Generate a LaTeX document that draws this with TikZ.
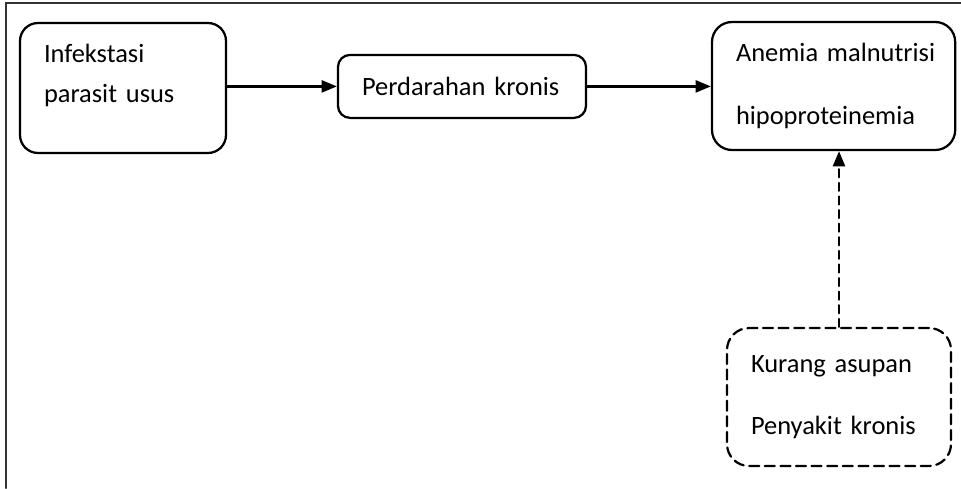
\documentclass[tikz,border=0pt]{standalone}
\usepackage{fontspec}
\setmainfont{Carlito}
\usetikzlibrary{arrows.meta}

\begin{document}
\begin{tikzpicture}[>={Triangle[length=0.38cm,width=0.3cm]},line cap=round,
  font=\fontsize{18.8}{28.45}\selectfont,
  box/.style={draw,line width=1.6pt,align=left,inner xsep=0.6cm,inner ysep=0pt},
  flow/.style={->,line width=1.6pt}]
\useasboundingbox (0,0) rectangle (24.025,12.2);
\draw[black!80,line width=1.6pt] (0.15,0) |- (24.025,12.125);
\node[box,rounded corners=0.45cm,text width=3.95cm,minimum height=3.25cm] (infeksi) at (3.075,10)
  {Infekstasi\\parasit usus\\[-0.25cm]\mbox{}};
\node[box,rounded corners=0.3cm,text width=5.0cm,minimum height=1.575cm] (darah) at (11.55,10.04)
  {Perdarahan kronis};
\node[box,rounded corners=0.5cm,inner xsep=0.6cm,text width=4.88cm,minimum height=3.2cm] (anemia) at (20.84,10.05)
  {\mbox{Anemia malnutrisi}\\[16pt]hipoproteinemia};
\node[box,dashed,dash pattern=on 0.25cm off 0.14cm,rounded corners=0.55cm,text width=4.4cm,
  minimum height=3.45cm] (asupan) at (20.975,2.275)
  {Kurang asupan\\[16pt]Penyakit kronis};
\draw[flow] (infeksi.east |- darah) -- (darah);
\draw[flow] (darah) -- (darah -| anemia.west);
\draw[flow,dash pattern=on 0.2cm off 0.14cm] (asupan.north) -- (asupan.north |- anemia.south);
\end{tikzpicture}
\end{document}
